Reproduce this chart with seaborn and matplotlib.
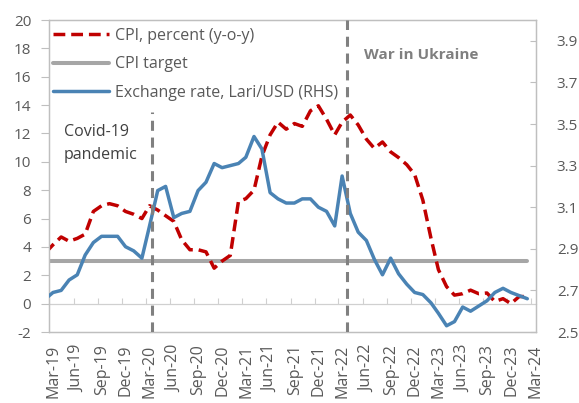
import matplotlib
matplotlib.use('Agg')
import matplotlib.pyplot as plt
import matplotlib.dates as mdates
import matplotlib.transforms as mtransforms
from matplotlib.lines import Line2D
import numpy as np
import pandas as pd
import seaborn as sns

# ---------------- data ----------------
# monthly observations (mid-month), Feb-19 .. Feb-24
months = pd.date_range('2019-02-01', '2024-02-01', freq='MS') + pd.Timedelta(days=14)

cpi = [3.6, 4.15, 4.7, 4.4, 4.6, 4.9, 6.5, 6.9, 7.05, 6.9, 6.5, 6.3, 6.0,
       6.9, 6.6, 6.2, 5.8, 4.5, 3.8, 3.8, 3.65, 2.5, 3.0, 3.4,
       7.2, 7.4, 8.0, 10.4, 11.9, 12.8, 12.3, 12.7, 12.5, 13.6, 13.95, 13.0,
       11.9, 12.8, 13.3, 12.6, 11.6, 10.95, 11.4, 10.7, 10.3, 9.8, 9.1, 7.3,
       4.6, 2.4, 1.2, 0.6, 0.7, 0.95, 0.7, 0.75, 0.15, 0.35, 0.0, 0.5, 0.5]

fx = [2.66, 2.69, 2.70, 2.75, 2.775, 2.87, 2.93, 2.96, 2.96, 2.96, 2.91, 2.89, 2.855,
      3.01, 3.18, 3.20, 3.05, 3.07, 3.08, 3.18, 3.22, 3.31, 3.29, 3.30,
      3.31, 3.34, 3.44, 3.38, 3.17, 3.14, 3.12, 3.12, 3.14, 3.14, 3.10, 3.08,
      3.01, 3.25, 3.07, 2.98, 2.94, 2.85, 2.775, 2.855, 2.78, 2.73, 2.69, 2.68,
      2.64, 2.59, 2.53, 2.55, 2.62, 2.60, 2.625, 2.65, 2.69, 2.71, 2.69, 2.675, 2.66]

cpi_target_value = 3.0
cpi_target = [cpi_target_value] * len(months)

tick_dates = pd.date_range('2019-03-01', '2024-03-01', freq='3MS')
tick_labels = ['Mar-19', 'Jun-19', 'Sep-19', 'Dec-19', 'Mar-20', 'Jun-20', 'Sep-20',
               'Dec-20', 'Mar-21', 'Jun-21', 'Sep-21', 'Dec-21', 'Mar-22', 'Jun-22',
               'Sep-22', 'Dec-22', 'Mar-23', 'Jun-23', 'Sep-23', 'Dec-23', 'Mar-24']
left_ticks = [-2, 0, 2, 4, 6, 8, 10, 12, 14, 16, 18, 20]
right_ticks = [2.5, 2.7, 2.9, 3.1, 3.3, 3.5, 3.7, 3.9]

covid_date = pd.Timestamp('2020-03-25')
war_date = pd.Timestamp('2022-04-02')

legend_labels = ['CPI, percent (y-o-y)', 'CPI target', 'Exchange rate, Lari/USD (RHS)']

# ---------------- style ----------------
sns.set_style('white')
plt.rcParams['font.family'] = ['Open Sans', 'DejaVu Sans']

RED = '#c00000'
GRAY = '#a6a6a6'
BLUE = '#4a83b4'
VLINE = '#808080'
TXT = '#595959'
SPINE = '#bfbfbf'
FS = 11
LFS = 11.5

df = pd.DataFrame({'date': months, 'cpi': cpi, 'target': cpi_target, 'fx': fx})

fig = plt.figure(figsize=(5.79, 4.03), dpi=100)
L, R, T, B = 49.3, 536, 20, 332
ax = fig.add_axes([L / 579, 1 - B / 403, (R - L) / 579, (B - T) / 403])
ax2 = ax.twinx()

sns.lineplot(data=df, x='date', y='target', ax=ax, color=GRAY, lw=2.9, zorder=2)
sns.lineplot(data=df, x='date', y='cpi', ax=ax, color=RED, lw=2.5,
             linestyle=(0, (3.4, 1.7)), zorder=3)
sns.lineplot(data=df, x='date', y='fx', ax=ax2, color=BLUE, lw=2.5, zorder=3)

ax.set_xlim(pd.Timestamp('2019-03-01'), pd.Timestamp('2024-03-19'))
ax.set_ylim(-2, 20)
ax2.set_ylim(2.5, 4.0)

ax.set_xlabel('')
ax.set_ylabel('')
ax2.set_ylabel('')

ax.set_yticks(left_ticks)
ax.set_yticklabels([str(v) for v in left_ticks])
ax2.set_yticks(right_ticks)
ax2.set_yticklabels([f'{v:.1f}' for v in right_ticks])

ax.set_xticks(tick_dates)
ax.set_xticklabels(tick_labels, rotation=90)
ax.tick_params(axis='x', length=0, pad=9, labelsize=LFS, labelcolor=TXT)
offset = mtransforms.ScaledTranslation(4 / 100, 0, fig.dpi_scale_trans)
for lab in ax.get_xticklabels():
    lab.set_transform(lab.get_transform() + offset)

ax.tick_params(axis='y', direction='out', length=6, width=0.8, color=SPINE,
               pad=7, labelsize=FS, labelcolor=TXT, left=True)
ax2.tick_params(axis='y', direction='in', length=4.5, width=0.8, color=SPINE,
                pad=15, labelsize=FS, labelcolor=TXT, right=True)

for a in (ax, ax2):
    for s in a.spines.values():
        s.set_color(SPINE)
        s.set_linewidth(0.9)
        s.set_visible(True)
    a.grid(False)

# category axis crossing at zero, ticks pointing up
sec = ax.secondary_xaxis(2 / 22)
sec.set_xticks(mdates.date2num(tick_dates))
sec.set_xticklabels([])
sec.tick_params(axis='x', direction='in', length=4.5, width=0.8, color='#d0d0d0')
sec.spines['bottom'].set_color('#d0d0d0')
sec.spines['bottom'].set_linewidth(0.9)

# event lines
ax2.axvline(covid_date, ymin=0, ymax=(13.5 + 2) / 22, color=VLINE, lw=2.2,
            linestyle=(0, (3.3, 2.2)), zorder=4)
ax2.axvline(war_date, ymin=0, ymax=1, color=VLINE, lw=2.2,
            linestyle=(0, (3.3, 2.2)), zorder=4)

ax.text(pd.Timestamp('2019-04-26'), 12.1, 'Covid-19', fontsize=LFS, color='#404040',
        ha='left', va='center')
ax.text(pd.Timestamp('2019-04-26'), 10.5, 'pandemic', fontsize=LFS, color='#404040',
        ha='left', va='center')
ax.text(pd.Timestamp('2022-06-07'), 17.5, 'War in Ukraine', fontsize=FS, color='#7f7f7f',
        fontweight='bold', ha='left', va='center')

handles = [Line2D([], [], color=RED, lw=2.5, linestyle=(0, (3.4, 1.7))),
           Line2D([], [], color=GRAY, lw=2.9),
           Line2D([], [], color=BLUE, lw=2.5)]
leg = ax2.legend(handles, legend_labels, loc='upper left',
                 bbox_to_anchor=(0.008, 0.975), frameon=False, fontsize=LFS,
                 handlelength=3.5, handletextpad=0.35, labelspacing=0.78,
                 borderaxespad=0, borderpad=0)
for t in leg.get_texts():
    t.set_color(TXT)

fig.savefig('out.png', dpi=100)
